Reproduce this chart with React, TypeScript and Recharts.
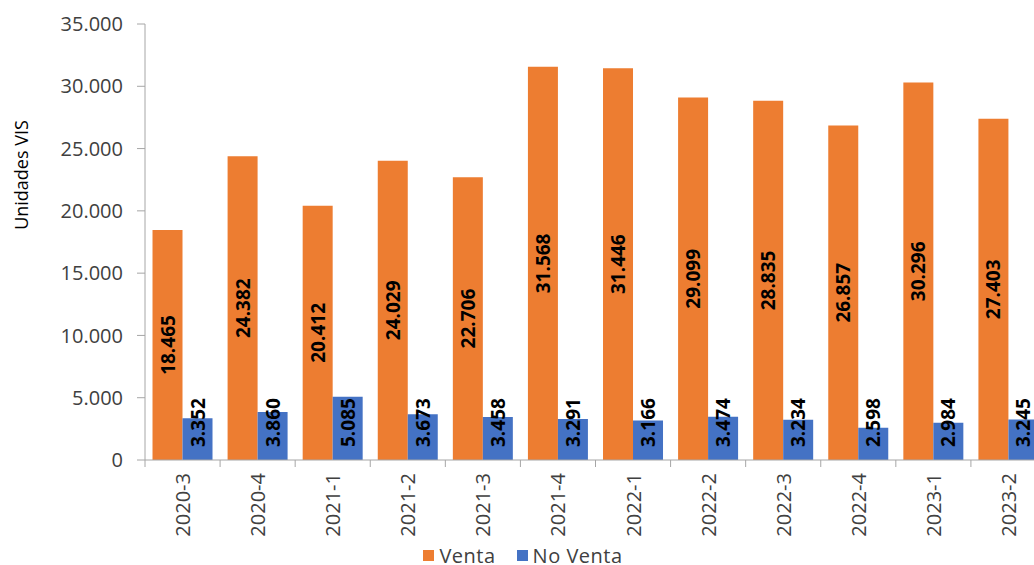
import { BarChart, Bar, XAxis, YAxis, Legend, LabelList } from "recharts";

const periods = [
  "2020-3", "2020-4", "2021-1", "2021-2", "2021-3", "2021-4",
  "2022-1", "2022-2", "2022-3", "2022-4", "2023-1", "2023-2",
];
const venta = [18465, 24382, 20412, 24029, 22706, 31568, 31446, 29099, 28835, 26857, 30296, 27403];
const noVenta = [3352, 3860, 5085, 3673, 3458, 3291, 3166, 3474, 3234, 2598, 2984, 3245];
const yTicks = [0, 5000, 10000, 15000, 20000, 25000, 30000, 35000];

const FONT = "'Open Sans', 'Noto Sans', sans-serif";
const ORANGE = "#ED7D31";
const BLUE = "#4472C4";
const AXIS = "#a6a6a6";
const TEXT = "#404040";

// thousands with a dot, like the source
const fmt = (v: number) => String(v).replace(/\B(?=(\d{3})+(?!\d))/g, ".");

const data = periods.map((p, i) => ({
  name: p,
  Venta: venta[i],
  "No Venta": noVenta[i],
}));

// label at the band centre, tick mark on the band's left edge (Excel style)
const PeriodTick = ({ x, y, payload }: any) => {
  const edge = x - (payload.offset ?? 0);
  const ty = y + 13;
  return (
    <g>
      <line x1={edge} x2={edge} y1={y} y2={y + 7} stroke={AXIS} />
      <text
        x={x}
        y={ty}
        transform={`rotate(-90 ${x} ${ty})`}
        textAnchor="end"
        dominantBaseline="central"
        fontFamily={FONT}
        fontSize={20}
        fill={TEXT}
      >
        {payload.value}
      </text>
    </g>
  );
};

const BaseLabel = ({ x, y, width, height, value }: any) => {
  const cx = x + width / 2;
  const by = y + height - 13;
  return (
    <text
      x={cx}
      y={by}
      transform={`rotate(-90 ${cx} ${by})`}
      textAnchor="start"
      dominantBaseline="central"
      fontFamily={FONT}
      fontSize={19}
      fontWeight="bold"
      fill="#000"
    >
      {fmt(value)}
    </text>
  );
};

const CenterLabel = ({ x, y, width, height, value }: any) => {
  const cx = x + width / 2;
  const cy = y + height / 2;
  return (
    <text
      x={cx}
      y={cy}
      transform={`rotate(-90 ${cx} ${cy})`}
      textAnchor="middle"
      dominantBaseline="central"
      fontFamily={FONT}
      fontSize={19}
      fontWeight="bold"
      fill="#000"
    >
      {fmt(value)}
    </text>
  );
};

const YTitle = () => (
  <text
    x={21}
    y={175}
    transform="rotate(-90 21 175)"
    textAnchor="middle"
    dominantBaseline="central"
    fontFamily={FONT}
    fontSize={18}
    fill="#000"
  >
    Unidades VIS
  </text>
);

const order = ["Venta", "No Venta"];

const LegendBox = ({ payload }: any) => {
  const items = [...(payload || [])].sort(
    (a: any, b: any) => order.indexOf(a.value) - order.indexOf(b.value)
  );
  return (
    <div
      style={{
        display: "flex",
        justifyContent: "center",
        alignItems: "center",
        height: 24,
        gap: 21,
        fontFamily: FONT,
        fontSize: 20,
        letterSpacing: 0.5,
        color: TEXT,
      }}
    >
      {items.map((it: any) => (
        <div key={it.value} style={{ display: "flex", alignItems: "center" }}>
          <span
            style={{
              width: 11,
              height: 11,
              background: it.color,
              marginRight: 5,
              display: "inline-block",
            }}
          />
          <span>{it.value}</span>
        </div>
      ))}
    </div>
  );
};

const App = () => {
  return (
    <div
      style={{
        position: "absolute",
        left: 0,
        top: 0,
        width: 1034,
        height: 565,
        overflow: "hidden",
        background: "#fff",
      }}
    >
      <BarChart
        width={1046}
        height={565}
        data={data}
        margin={{ top: 24, right: 0, left: 0, bottom: 0 }}
        barCategoryGap="10%"
        barGap={0}
      >
        <XAxis
          dataKey="name"
          interval={0}
          tick={<PeriodTick />}
          tickLine={false}
          tickSize={0}
          tickMargin={0}
          stroke={AXIS}
          height={81}
        />
        <YAxis
          width={145}
          domain={[0, 35000]}
          ticks={yTicks}
          tickFormatter={fmt}
          tickSize={8}
          tickMargin={14}
          stroke={AXIS}
          tick={{ fill: TEXT, fontSize: 20, fontFamily: FONT }}
          label={{ content: <YTitle /> }}
        />
        <Legend
          verticalAlign="bottom"
          wrapperStyle={{ bottom: -2 }}
          content={<LegendBox />}
        />
        <Bar dataKey="Venta" fill={ORANGE} isAnimationActive={false}>
          <LabelList dataKey="Venta" content={<CenterLabel />} />
        </Bar>
        <Bar dataKey="No Venta" fill={BLUE} isAnimationActive={false}>
          <LabelList dataKey="No Venta" content={<BaseLabel />} />
        </Bar>
      </BarChart>
    </div>
  );
};

export default App;
